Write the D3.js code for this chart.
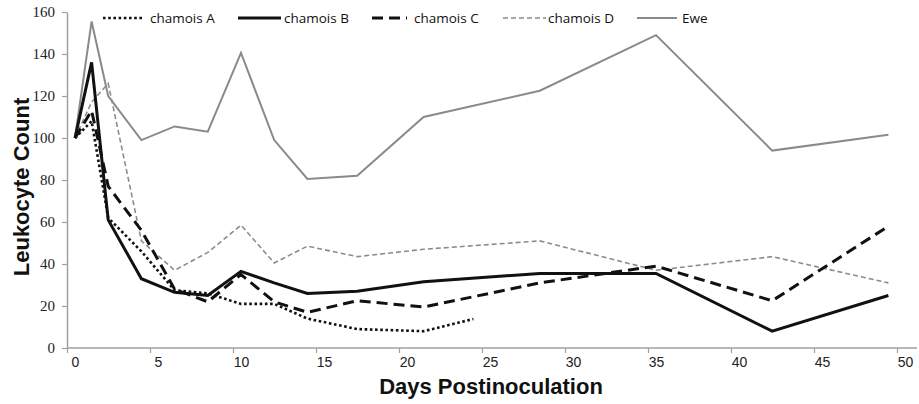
<!DOCTYPE html>
<html><head><meta charset="utf-8">
<script src="https://cdn.jsdelivr.net/npm/d3@7"></script>
<style>body{margin:0;background:#fff;}svg{display:block;}</style>
</head><body>
<svg id="c" width="919" height="404"></svg>
<script>
const days = [0,1,2,4,6,8,10,12,14,17,21,28,35,42,49];
const chamoisA = [100,108,62,46,27.5,26,21,21,14,9,8,13.8];
const daysA = [0,1,2,4,6,8,10,12,14,17,21,24];
const chamoisB = [100,136,61,33,26.5,25,36.5,31,26,27,31.5,35.5,35.5,8,25];
const chamoisC = [100,113,77,56,28,22,35,22,17,22.5,19.5,31,39,22.5,58];
const chamoisD = [100,117,126,51,37,45.5,58.5,40.5,48.5,43.5,47,51,37,43.5,31];
const ewe = [100,155.5,120,99,105.5,103,140.5,99,80.5,82,110,122.5,149,94,101.5];
const xTicks = [0,5,10,15,20,25,30,35,40,45,50];
const yTicks = [0,20,40,60,80,100,120,140,160];
const seriesNames = ["chamois A","chamois B","chamois C","chamois D","Ewe"];

const svg = d3.select("#c");
const x = d3.scaleLinear().domain([0,50]).range([75,905]);
const y = d3.scaleLinear().domain([0,160]).range([348,12]);
const axisColor = "#a0a0a0";

// Y axis
const ya = svg.append("g").attr("transform","translate(67,0)")
  .call(d3.axisLeft(y).tickValues(yTicks).tickSize(5).tickSizeOuter(0));
ya.select(".domain").attr("stroke",axisColor).attr("stroke-width",1.5);
ya.selectAll(".tick line").attr("stroke",axisColor).attr("stroke-width",1.2);
ya.selectAll(".tick text").attr("x",-12).attr("font-family","Liberation Serif, DejaVu Serif, serif")
  .attr("font-size",15).attr("fill","#222");

// X axis
const xa = svg.append("g").attr("transform","translate(0,348)")
  .call(d3.axisBottom(x).tickValues(xTicks).tickSize(5).tickSizeOuter(0));
xa.select(".domain").remove();
xa.append("line").attr("x1",67).attr("x2",917).attr("y1",0).attr("y2",0)
  .attr("stroke",axisColor).attr("stroke-width",1.5);
xa.selectAll(".tick line").attr("stroke",axisColor).attr("stroke-width",1.2).attr("transform","translate(-8,0)");
xa.selectAll(".tick text").attr("y",9).attr("font-family","Liberation Sans Narrow, Liberation Sans, sans-serif")
  .attr("font-size",14).attr("fill","#222");

// Axis titles
svg.append("text").attr("x",491).attr("y",394).attr("text-anchor","middle")
  .attr("font-family","Liberation Sans, Arial, sans-serif").attr("font-weight","bold")
  .attr("font-size",22).attr("fill","#111").text("Days Postinoculation");
svg.append("text").attr("transform","translate(29,187) rotate(-90)").attr("text-anchor","middle")
  .attr("font-family","Liberation Sans, Arial, sans-serif").attr("font-weight","bold")
  .attr("font-size",22).attr("fill","#111").text("Leukocyte Count");

const styles = [
  {stroke:"#111", w:2.6, dash:"2.6,2.6"},
  {stroke:"#111", w:3, dash:null},
  {stroke:"#111", w:3, dash:"11,6"},
  {stroke:"#8c8c8c", w:1.6, dash:"5,3"},
  {stroke:"#8a8a8a", w:2, dash:null}
];
const data = [
  daysA.map((d,i)=>[d,chamoisA[i]]),
  days.map((d,i)=>[d,chamoisB[i]]),
  days.map((d,i)=>[d,chamoisC[i]]),
  days.map((d,i)=>[d,chamoisD[i]]),
  days.map((d,i)=>[d,ewe[i]])
];
const line = d3.line().x(d=>x(d[0])).y(d=>y(d[1]));
const order = [4,3,2,1,0];
order.forEach(i=>{
  const s = styles[i];
  svg.append("path").datum(data[i]).attr("d",line).attr("fill","none")
    .attr("stroke",s.stroke).attr("stroke-width",s.w)
    .attr("stroke-dasharray",s.dash).attr("stroke-linejoin","miter");
});

// Legend
const legendItems = [
  {x1:103,x2:143,tx:150},
  {x1:238,x2:281,tx:284},
  {x1:372,x2:407,tx:414},
  {x1:503,x2:546,tx:548},
  {x1:637,x2:677,tx:682}
];
legendItems.forEach((it,i)=>{
  const s = styles[i];
  svg.append("line").attr("x1",it.x1).attr("x2",it.x2).attr("y1",18).attr("y2",18)
    .attr("stroke",s.stroke).attr("stroke-width",s.w).attr("stroke-dasharray",s.dash);
  svg.append("text").attr("x",it.tx).attr("y",23).attr("font-family","Open Sans, Noto Sans, sans-serif")
    .attr("font-size",13.5).attr("fill","#111").text(seriesNames[i]);
});
</script>
</body></html>
